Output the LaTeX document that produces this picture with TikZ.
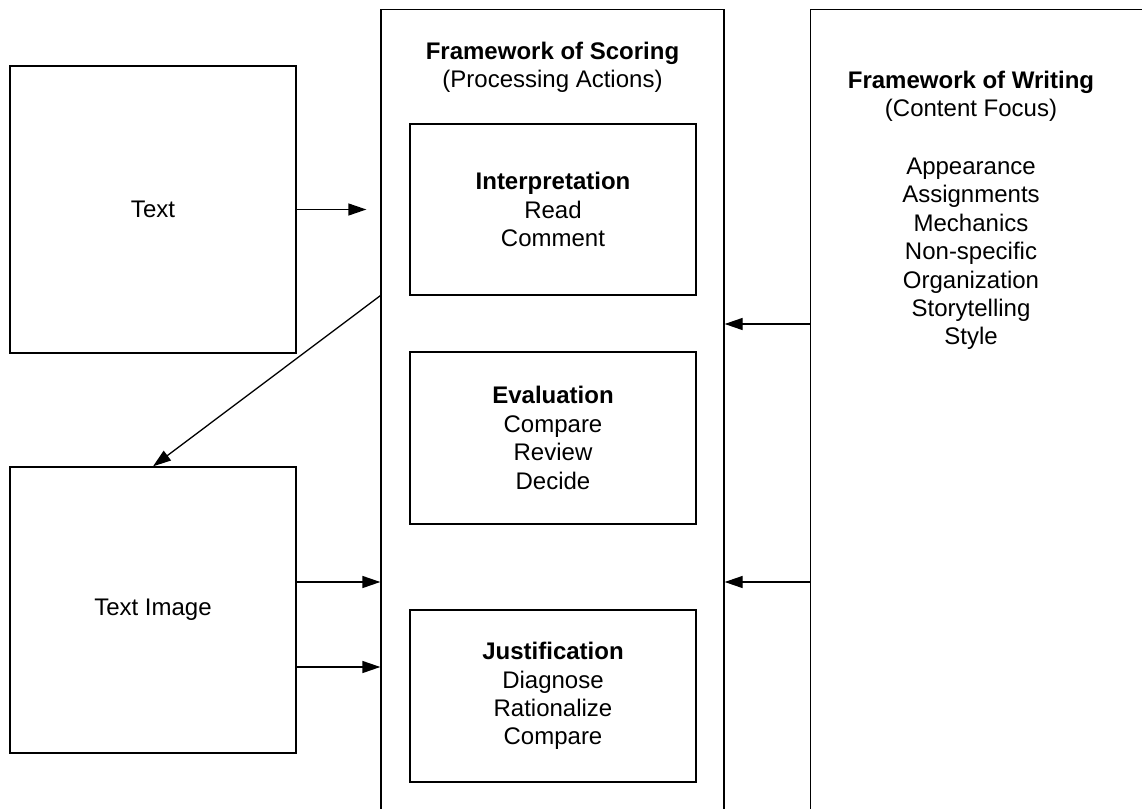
\documentclass[tikz,border=0pt]{standalone}
\usepackage{fontspec}
\setmainfont{Liberation Sans}
\usetikzlibrary{arrows.meta}
\begin{document}
\begin{tikzpicture}[x=1pt,y=-1pt,
 box/.style={draw, line width=1.3pt, rectangle, inner sep=0pt, align=center, font=\fontsize{24}{28.4}\selectfont},
 arr/.style={line width=1.3pt, -{Triangle[length=18pt,width=12pt]}},
 lbl/.style={align=center, inner sep=0pt, font=\fontsize{24}{28.4}\selectfont}]
\useasboundingbox (0,0) rectangle (1142,808);
\clip (0,0) rectangle (1142,808);
\node[box, minimum width=286pt, minimum height=287pt] (text) at (153,209.5) {Text};
\node[box, minimum width=286pt, minimum height=286pt] (img) at (153,610) {Text Image};
\node[box, minimum width=343pt, minimum height=830pt, anchor=north] (mid) at (552.5,9) {};
\node[box, minimum width=400pt, minimum height=830pt, anchor=north west] (right) at (810,9) {};
\node[box, minimum width=286pt, minimum height=171pt] (interp) at (553,209.5) {\textbf{Interpretation}\\Read\\Comment};
\node[box, minimum width=286pt, minimum height=172pt] (eval) at (553,438) {\textbf{Evaluation}\\Compare\\Review\\Decide};
\node[box, minimum width=286pt, minimum height=172pt] (just) at (553,696) {\textbf{Justification}\\Diagnose\\Rationalize\\Compare};
\node[lbl] (stitle) at (552.5,67.5) {\textbf{Framework of Scoring}\\(Processing Actions)};
\node[lbl] (wtitle) at (971,96) {\textbf{Framework of Writing}\\(Content Focus)};
\node[lbl] (wlist) at (971,254) {Appearance\\Assignments\\Mechanics\\Non-specific\\Organization\\Storytelling\\Style};
\draw[arr, shorten >=14pt] (text.east) -- (text.east -| mid.west);
\draw[arr] (mid.west |- interp.south) -- (img.north);
\draw[arr] (img.east |- 0,582) -- (mid.west |- 0,582);
\draw[arr] (img.east |- 0,667) -- (mid.west |- 0,667);
\draw[arr] (right.west |- 0,324) -- (mid.east |- 0,324);
\draw[arr] (right.west |- 0,582) -- (mid.east |- 0,582);
\end{tikzpicture}
\end{document}
